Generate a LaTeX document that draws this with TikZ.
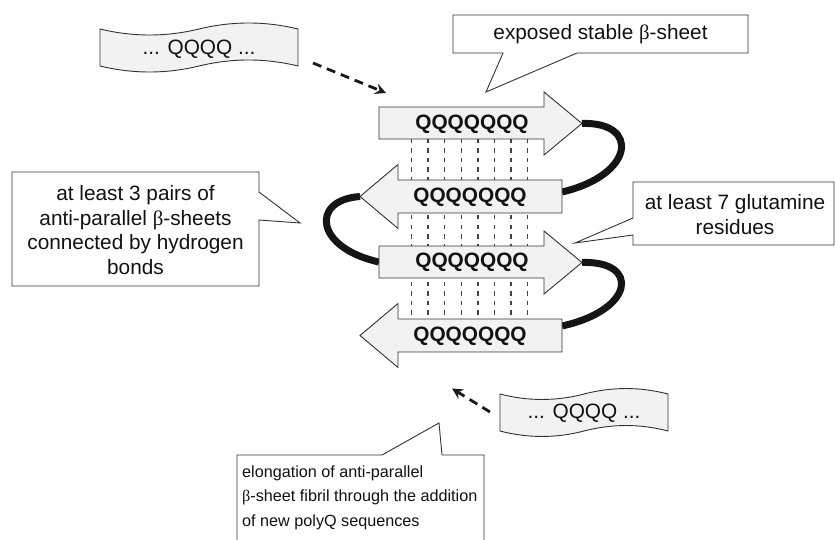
\documentclass[tikz,border=0pt]{standalone}
\usepackage{fontspec}
\setmainfont{Liberation Sans}
\newfontfamily\betafont{Liberation Serif}
\usetikzlibrary{arrows.meta}
\definecolor{strandfill}{HTML}{F2F2F2}
\definecolor{edgecol}{HTML}{333333}
\definecolor{hbcol}{HTML}{444444}
\begin{document}
\begin{tikzpicture}[x=1pt,y=-1pt,
  strandbox/.style={fill=strandfill, draw=edgecol, line width=0.9pt, line join=miter},
  loopline/.style={line width=7pt, draw=black!92},
  hbond/.style={draw=hbcol, line width=1.5pt, dash pattern=on 4.5pt off 5pt},
  calloutbox/.style={fill=white, draw=edgecol, line width=0.9pt, line join=miter},
  bannerbox/.style={fill=strandfill, draw=edgecol, line width=0.9pt},
  txt/.style={inner sep=0pt, font=\fontsize{20.8}{24.5}\selectfont, text=black!93, align=center},
  qtxt/.style={inner sep=0pt, font=\fontsize{20.8}{24.5}\selectfont\bfseries, text=black!93},
  smalltxt/.style={inner sep=0pt, font=\fontsize{16.2}{24.5}\selectfont, text=black!93, align=left},
  flow/.style={line width=2.8pt, draw=black!90, dash pattern=on 9pt off 6pt, -{Stealth[length=11pt,width=11pt,inset=4pt]}}
]
\useasboundingbox (0,0) rectangle (835,540);

% hydrogen bonds
\foreach \i in {0,...,7}{
  \draw[hbond] ({411.5+16.6*\i},139) -- ({411.5+16.6*\i},319);
}

% strand tips / ends
\coordinate (t1) at (582,123.5);
\coordinate (e2) at (562,192);
\coordinate (t2) at (360,196.5);
\coordinate (s3) at (379,262);
\coordinate (t3) at (582,262.5);
\coordinate (e4) at (562,326);

% loops
\draw[loopline] (t1) .. controls +(58,-2) and +(73,-17) .. (e2);
\draw[loopline] (t2) .. controls +(-50,3.5) and +(-64,-14) .. (s3);
\draw[loopline] (t3) .. controls +(58,-2) and +(73,-16) .. (e4);

% strands
\draw[strandbox] (379,107) -- (544,107) -- (544,92) -- (t1) -- (544,155) -- (544,139) -- (379,139) -- cycle;
\draw[strandbox] (562,180) -- (398,180) -- (398,164.5) -- (t2) -- (398,228.5) -- (398,213) -- (562,213) -- cycle;
\draw[strandbox] (379,246) -- (544,246) -- (544,231) -- (t3) -- (544,294) -- (544,278) -- (379,278) -- cycle;
\draw[strandbox] (562,319) -- (398,319) -- (398,303.5) -- (360,335.5) -- (398,367.5) -- (398,352) -- (562,352) -- cycle;

\node[qtxt] (q1) at (472,124) {QQQQQQQ};
\node[qtxt] (q2) at (470,197) {QQQQQQQ};
\node[qtxt] (q3) at (472,262.5) {QQQQQQQ};
\node[qtxt] (q4) at (470,336) {QQQQQQQ};

% banners
\draw[bannerbox] (100,29) .. controls (133,37) and (166,37) .. (199,29) .. controls (232,21) and (265,21) .. (298,29) -- (298,66) .. controls (265,58) and (232,58) .. (199,66) .. controls (166,74) and (133,74) .. (100,66) -- cycle;
\node[txt] (b1) at (199,49) {... QQQQ ...};
\draw[bannerbox] (500,394) .. controls (528,401.3) and (556,401.3) .. (584,394) .. controls (612,386.7) and (640,386.7) .. (668,394) -- (668,431) .. controls (640,423.7) and (612,423.7) .. (584,431) .. controls (556,438.3) and (528,438.3) .. (500,431) -- cycle;
\node[txt] (b2) at (584,413) {... QQQQ ...};

% incoming arrows
\coordinate (a1s) at (313,63);
\coordinate (a1e) at (386,93);
\coordinate (a2s) at (490,412);
\coordinate (a2e) at (452,388.5);
\draw[flow] (a1s) -- (a1e);
\draw[flow] (a2s) -- (a2e);

% callouts
\draw[calloutbox] (453,15) -- (748,15) -- (748,53) -- (577,53) -- (486,92) -- (503,53) -- (453,53) -- cycle;
\node[txt] (c1) at (600.5,34) {exposed stable {\betafont β}-sheet};

\draw[calloutbox] (12,172) -- (259,172) -- (259,192) -- (300,223) -- (259,220) -- (259,286) -- (12,286) -- cycle;
\node[txt] (c2) at (135.5,230) {at least 3 pairs of\\anti-parallel {\betafont β}-sheets\\connected by hydrogen\\bonds};

\draw[calloutbox] (633,182) -- (834,182) -- (834,245) -- (633,245) -- (633,235) -- (575,243) -- (633,218) -- cycle;
\node[txt] (c3) at (735,214.5) {at least 7 glutamine\\residues};

\draw[calloutbox] (237,560) -- (237,455) -- (382,455) -- (439,423) -- (442,455) -- (484,455) -- (484,560);
\node[smalltxt, anchor=west] (c4) at (242,497.5) {elongation of anti-parallel\\{\betafont β}-sheet fibril through the addition\\of new polyQ sequences};
\end{tikzpicture}
\end{document}
